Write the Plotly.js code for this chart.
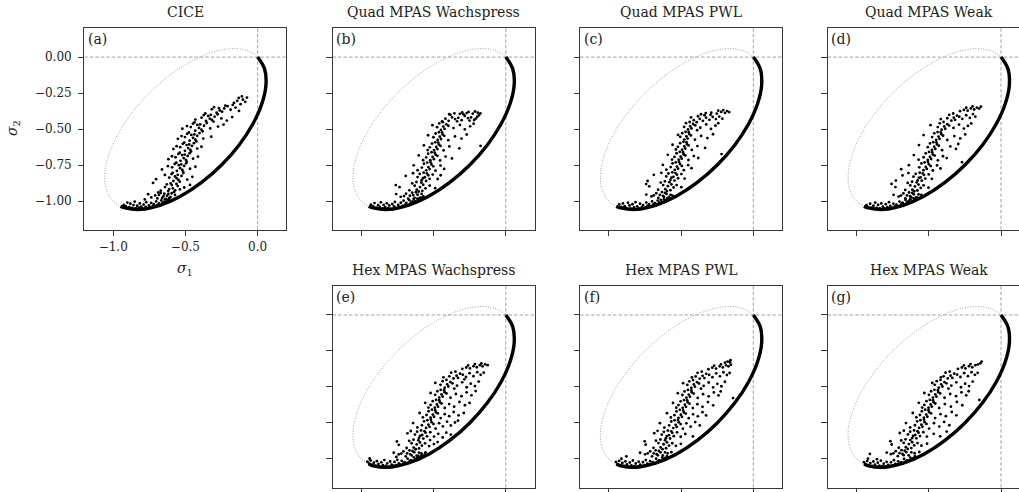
<!DOCTYPE html>
<html>
<head>
<meta charset="utf-8">
<script src="https://cdn.plot.ly/plotly-3.0.1.min.js"></script>
<style>
html, body { margin:0; padding:0; overflow:hidden; background:#fff; }
#chart { width:1040px; height:492px; }
</style>
</head>
<body>
<div id="chart"></div>
<script>
// ---------------- data ----------------
const panelTitles = ["CICE", "Quad MPAS Wachspress", "Quad MPAS PWL", "Quad MPAS Weak",
                     "Hex MPAS Wachspress", "Hex MPAS PWL", "Hex MPAS Weak"];
const panelLetters = ["(a)", "(b)", "(c)", "(d)", "(e)", "(f)", "(g)"];

const xTickVals = [-1.0, -0.5, 0.0];
const xTickText = ["\u22121.0", "\u22120.5", "0.0"];
const yTickVals = [0.0, -0.25, -0.5, -0.75, -1.0];
const yTickText = ["0.00\u00a0", "\u22120.25\u00a0", "\u22120.50\u00a0", "\u22120.75\u00a0", "\u22121.00\u00a0"];
const xLabel = "<i>σ</i><sub>1</sub>";
const yLabel = "<i>σ</i><sub>2</sub>";
const refS1 = 0.0, refS2 = 0.0;

// yield ellipse (dotted)
const ellipseS1 = [0, -0.082, -0.192, -0.323, -0.467, -0.612, -0.75, -0.871, -0.967, -1.03, -1.058, -1.048, -1.0,
                   -0.918, -0.808, -0.677, -0.534, -0.388, -0.25, -0.129, -0.034, 0.03, 0.058, 0.048, 0];
const ellipseS2 = [0, 0.048, 0.058, 0.03, -0.034, -0.129, -0.25, -0.388, -0.534, -0.677, -0.808, -0.918, -1.0,
                   -1.048, -1.058, -1.03, -0.967, -0.871, -0.75, -0.612, -0.467, -0.323, -0.192, -0.082, 0];
// dense states lying on the yield curve (thick black arc)
const arcS1 = [-0.949, -0.918, -0.808, -0.677, -0.534, -0.388, -0.25, -0.129, -0.034, 0.03, 0.058, 0.048, 0];
const arcS2 = [-1.036, -1.048, -1.058, -1.03, -0.967, -0.871, -0.75, -0.612, -0.467, -0.323, -0.192, -0.082, 0];

const cloudCICE = [
[-.927,-1.027],[-.913,-1.036],[-.902,-1.011],[-.889,-1.043],[-.881,-1.019],[-.868,-1.047],[-.859,-1.028],[-.851,-1.004],[-.843,-1.051],[-.834,-1.033],
[-.822,-1.046],[-.816,-1.017],[-.806,-1.039],[-.797,-1.052],[-.789,-1.025],[-.776,-1.041],[-.771,-1.008],[-.763,-1.049],[-.752,-1.031],[-.744,-1.044],
[-.737,-1.013],[-.726,-1.036],[-.719,-1.022],[-.711,-1.039],[-.702,-1.003],[-.694,-1.028],[-.683,-1.017],[-.676,-1.032],[-.667,-.996],[-.659,-1.013],
[-.648,-1.007],[-.641,-.988],[-.633,-1.004],[-.622,-.992],[-.611,-.979],
[-.652,-.967],[-.694,-.982],[-.618,-.951],[-.736,-.975],[-.671,-.944],[-.603,-.972],[-.683,-.958],[-.634,-.986],[-.781,-.989],[-.595,-.946],
[-.661,-.979],[-.709,-.961],[-.627,-.963],[-.572,-.958],[-.646,-.949],[-.758,-.953],[-.688,-.941],[-.612,-.984],
[-.587,-.912],[-.619,-.931],[-.553,-.896],[-.602,-.878],[-.571,-.926],[-.641,-.903],[-.538,-.919],[-.594,-.889],[-.724,-.874],[-.613,-.917],
[-.562,-.881],[-.671,-.928],[-.508,-.906],[-.578,-.937],[-.468,-.888],[-.629,-.884],
[-.561,-.842],[-.583,-.861],[-.527,-.826],[-.596,-.813],[-.548,-.854],[-.612,-.837],[-.514,-.806],[-.572,-.829],[-.703,-.848],[-.539,-.866],
[-.588,-.804],[-.642,-.819],[-.487,-.851],[-.553,-.818],[-.452,-.832],
[-.537,-.772],[-.559,-.791],[-.508,-.756],[-.574,-.743],[-.521,-.784],[-.592,-.766],[-.495,-.738],[-.546,-.751],[-.662,-.781],[-.516,-.797],
[-.563,-.734],[-.621,-.758],[-.468,-.776],[-.529,-.746],[-.431,-.762],
[-.512,-.702],[-.534,-.721],[-.484,-.687],[-.549,-.673],[-.497,-.714],[-.568,-.696],[-.471,-.668],[-.523,-.681],[-.618,-.709],[-.491,-.727],
[-.539,-.664],[-.593,-.689],[-.447,-.706],[-.505,-.677],[-.413,-.692],
[-.481,-.632],[-.503,-.651],[-.455,-.617],[-.518,-.603],[-.466,-.644],[-.536,-.626],[-.441,-.598],[-.492,-.611],[-.583,-.638],[-.461,-.656],
[-.508,-.594],[-.561,-.619],[-.418,-.636],[-.474,-.607],[-.389,-.623],
[-.447,-.562],[-.471,-.581],[-.418,-.547],[-.488,-.533],[-.431,-.574],[-.503,-.556],[-.402,-.528],[-.459,-.541],[-.552,-.568],[-.424,-.586],
[-.476,-.524],[-.527,-.549],[-.376,-.566],[-.438,-.537],[-.321,-.553],
[-.406,-.492],[-.432,-.511],[-.371,-.477],[-.448,-.463],[-.389,-.504],[-.463,-.486],[-.352,-.458],[-.417,-.471],[-.521,-.498],[-.381,-.516],
[-.437,-.454],[-.489,-.479],[-.328,-.496],[-.398,-.467],[-.274,-.483],[-.236,-.469],
[-.331,-.428],[-.357,-.444],[-.298,-.414],[-.373,-.403],[-.316,-.437],[-.388,-.421],[-.277,-.397],[-.342,-.409],[-.431,-.434],[-.305,-.448],
[-.362,-.392],[-.251,-.426],[-.213,-.441],[-.324,-.401],[-.176,-.417],
[-.262,-.371],[-.284,-.386],[-.231,-.357],[-.302,-.348],[-.246,-.379],[-.317,-.363],[-.208,-.341],[-.268,-.354],[-.187,-.366],[-.153,-.351],
[-.224,-.337],[-.129,-.374],
[-.163,-.318],[-.141,-.304],[-.118,-.327],[-.172,-.332],[-.102,-.296],[-.131,-.284],[-.086,-.311],[-.074,-.281],[-.109,-.273]
];

const cloudQuadWachspress = [
[-.933,-1.026],[-.918,-1.038],[-.909,-1.014],[-.896,-1.047],[-.884,-1.029],[-.873,-1.041],[-.865,-1.009],[-.852,-1.052],[-.846,-1.027],[-.835,-1.043],
[-.824,-1.016],[-.813,-1.049],[-.807,-1.031],[-.795,-1.054],[-.786,-1.021],[-.774,-1.038],[-.768,-1.006],[-.757,-1.047],[-.745,-1.027],[-.738,-1.042],
[-.727,-1.012],[-.716,-1.034],[-.708,-.998],[-.697,-1.026],[-.689,-1.013],[-.676,-1.029],[-.668,-.994],[-.657,-1.012],[-.646,-1.003],[-.638,-.986],
[-.627,-1.001],[-.613,-.984],[-.602,-.991],[-.587,-.977],
[-.664,-.963],[-.632,-.978],[-.691,-.949],[-.611,-.956],[-.648,-.942],[-.728,-.971],[-.597,-.979],[-.676,-.984],[-.622,-.939],[-.759,-.952],
[-.583,-.951],[-.705,-.966],[-.641,-.959],[-.571,-.968],
[-.594,-.903],[-.617,-.921],[-.572,-.887],[-.631,-.894],[-.603,-.934],[-.556,-.912],[-.648,-.877],[-.585,-.872],[-.736,-.904],[-.619,-.868],
[-.527,-.893],[-.668,-.926],[-.489,-.911],[-.762,-.889],[-.578,-.929],
[-.561,-.835],[-.583,-.856],[-.537,-.821],[-.596,-.812],[-.552,-.861],[-.528,-.846],[-.611,-.834],[-.569,-.803],[-.693,-.826],[-.506,-.816],
[-.574,-.842],[-.642,-.807],[-.472,-.847],[-.547,-.808],[-.451,-.821],
[-.536,-.764],[-.551,-.787],[-.515,-.746],[-.567,-.741],[-.528,-.778],[-.502,-.759],[-.581,-.768],[-.544,-.733],[-.638,-.752],[-.487,-.789],
[-.521,-.731],[-.611,-.786],[-.452,-.754],[-.427,-.777],
[-.507,-.694],[-.523,-.716],[-.486,-.678],[-.538,-.671],[-.498,-.709],[-.474,-.686],[-.551,-.697],[-.514,-.661],[-.603,-.683],[-.455,-.718],
[-.492,-.664],[-.572,-.716],[-.417,-.691],[-.373,-.704],
[-.482,-.624],[-.497,-.646],[-.463,-.608],[-.511,-.601],[-.474,-.639],[-.452,-.617],[-.526,-.627],[-.489,-.592],[-.567,-.613],[-.431,-.648],
[-.468,-.594],[-.541,-.646],[-.391,-.621],[-.322,-.634],
[-.457,-.553],[-.472,-.576],[-.438,-.537],[-.486,-.531],[-.449,-.569],[-.426,-.547],[-.501,-.557],[-.463,-.522],[-.538,-.543],[-.398,-.577],
[-.441,-.524],[-.352,-.551],[-.307,-.566],[-.271,-.538],
[-.433,-.483],[-.449,-.506],[-.412,-.467],[-.461,-.461],[-.424,-.499],[-.398,-.477],[-.476,-.487],[-.436,-.452],[-.362,-.493],[-.318,-.471],
[-.508,-.473],[-.284,-.502],[-.247,-.481],[-.223,-.463],
[-.418,-.428],[-.396,-.443],[-.372,-.419],[-.351,-.431],[-.329,-.422],[-.306,-.438],[-.284,-.409],[-.262,-.424],[-.241,-.419],[-.219,-.437],
[-.198,-.414],[-.441,-.446],[-.383,-.401],[-.337,-.446],[-.293,-.398],[-.251,-.441],[-.207,-.427],[-.186,-.404],
[-.392,-.397],[-.356,-.391],[-.318,-.394],[-.271,-.389],[-.229,-.393],[-.194,-.386],[-.176,-.391],[-.213,-.378],[-.258,-.381],[-.302,-.385],
[-.175,-.617]
];

const cloudQuadPWL = [
[-.928,-1.023],[-.915,-1.041],[-.903,-1.017],[-.891,-1.036],[-.879,-1.049],[-.868,-1.012],[-.857,-1.031],[-.849,-1.053],[-.837,-1.022],[-.826,-1.044],
[-.816,-1.008],[-.804,-1.037],[-.793,-1.051],[-.784,-1.019],[-.772,-1.042],[-.763,-1.028],[-.751,-1.046],[-.741,-1.011],[-.732,-1.033],[-.721,-1.021],
[-.712,-1.038],[-.701,-1.003],[-.692,-1.024],[-.681,-1.014],[-.671,-1.027],[-.662,-.997],[-.651,-1.011],[-.641,-.992],[-.632,-1.006],[-.619,-.988],
[-.608,-.996],[-.596,-.981],[-.584,-.989],
[-.647,-.958],[-.618,-.972],[-.672,-.946],[-.601,-.951],[-.633,-.938],[-.705,-.968],[-.584,-.972],[-.658,-.979],[-.612,-.943],[-.741,-.955],
[-.573,-.957],[-.689,-.961],[-.626,-.964],[-.559,-.962],
[-.591,-.897],[-.609,-.918],[-.567,-.884],[-.624,-.889],[-.598,-.931],[-.552,-.906],[-.641,-.872],[-.581,-.869],[-.721,-.898],[-.612,-.863],
[-.531,-.889],[-.659,-.921],[-.498,-.904],[-.742,-.882],[-.574,-.925],
[-.553,-.832],[-.574,-.853],[-.529,-.817],[-.588,-.809],[-.546,-.858],[-.521,-.842],[-.603,-.829],[-.561,-.801],[-.689,-.818],[-.498,-.813],
[-.567,-.838],[-.637,-.804],[-.476,-.844],[-.539,-.806],[-.732,-.861],
[-.529,-.761],[-.544,-.784],[-.508,-.743],[-.559,-.738],[-.521,-.775],[-.495,-.756],[-.572,-.764],[-.537,-.731],[-.626,-.749],[-.481,-.786],
[-.514,-.728],[-.602,-.782],[-.451,-.751],[-.428,-.772],
[-.503,-.691],[-.517,-.713],[-.483,-.675],[-.531,-.668],[-.496,-.706],[-.471,-.683],[-.546,-.694],[-.509,-.658],[-.592,-.679],[-.449,-.715],
[-.487,-.661],[-.563,-.712],[-.412,-.688],[-.381,-.701],
[-.478,-.621],[-.493,-.643],[-.459,-.605],[-.507,-.598],[-.471,-.636],[-.448,-.614],[-.522,-.624],[-.484,-.589],[-.559,-.609],[-.426,-.645],
[-.463,-.591],[-.536,-.642],[-.387,-.618],[-.334,-.631],
[-.463,-.551],[-.478,-.573],[-.444,-.535],[-.492,-.529],[-.455,-.566],[-.432,-.544],[-.506,-.554],[-.469,-.519],[-.521,-.541],[-.404,-.574],
[-.447,-.522],[-.361,-.548],[-.318,-.563],[-.279,-.536],
[-.437,-.481],[-.452,-.503],[-.417,-.465],[-.466,-.459],[-.428,-.496],[-.402,-.474],[-.479,-.485],[-.441,-.451],[-.367,-.491],[-.326,-.468],
[-.293,-.499],[-.262,-.477],[-.389,-.508],[-.243,-.459],
[-.412,-.438],[-.392,-.452],[-.371,-.429],[-.349,-.443],[-.327,-.421],[-.304,-.436],[-.281,-.416],[-.259,-.431],[-.236,-.413],[-.214,-.428],
[-.431,-.419],[-.383,-.411],[-.338,-.404],[-.296,-.401],
[-.362,-.397],[-.329,-.389],[-.291,-.386],[-.253,-.393],[-.222,-.381],[-.196,-.388],[-.181,-.375],[-.167,-.382],[-.208,-.368],[-.243,-.372],
[-.22,-.674]
];

const cloudQuadWeak = [
[-.931,-1.029],[-.919,-1.042],[-.906,-1.019],[-.894,-1.046],[-.883,-1.033],[-.871,-1.011],[-.861,-1.048],[-.851,-1.027],[-.839,-1.052],[-.829,-1.017],
[-.818,-1.039],[-.807,-1.051],[-.798,-1.022],[-.787,-1.043],[-.776,-1.008],[-.766,-1.034],[-.754,-1.047],[-.745,-1.019],[-.734,-1.038],[-.724,-1.026],
[-.713,-1.036],[-.703,-1.004],[-.692,-1.021],[-.682,-1.011],[-.672,-1.024],[-.661,-.993],[-.65,-1.009],[-.639,-.999],[-.628,-.987],[-.617,-1.001],
[-.605,-.982],[-.594,-.991],[-.579,-.976],
[-.651,-.961],[-.622,-.975],[-.676,-.947],[-.604,-.953],[-.637,-.941],[-.709,-.969],[-.588,-.975],[-.662,-.982],[-.615,-.944],[-.744,-.957],
[-.571,-.954],[-.693,-.962],[-.629,-.967],[-.552,-.958],
[-.596,-.899],[-.614,-.921],[-.571,-.886],[-.628,-.892],[-.601,-.932],[-.556,-.909],[-.646,-.874],[-.584,-.871],[-.731,-.903],[-.616,-.866],
[-.536,-.891],[-.663,-.923],[-.502,-.907],[-.758,-.881],[-.579,-.927],
[-.557,-.836],[-.577,-.857],[-.533,-.819],[-.591,-.811],[-.549,-.859],[-.524,-.844],[-.606,-.831],[-.563,-.803],[-.682,-.822],[-.501,-.815],
[-.569,-.839],[-.641,-.806],[-.479,-.846],[-.542,-.808],[-.728,-.858],
[-.521,-.763],[-.537,-.786],[-.499,-.745],[-.551,-.739],[-.514,-.777],[-.487,-.757],[-.566,-.766],[-.529,-.732],[-.638,-.751],[-.472,-.788],
[-.506,-.729],[-.691,-.779],[-.443,-.753],[-.419,-.774],
[-.492,-.693],[-.507,-.715],[-.472,-.677],[-.521,-.669],[-.484,-.708],[-.459,-.684],[-.536,-.696],[-.498,-.659],[-.604,-.681],[-.437,-.717],
[-.476,-.663],[-.571,-.713],[-.402,-.689],[-.376,-.702],
[-.463,-.623],[-.478,-.645],[-.443,-.607],[-.492,-.6],[-.455,-.638],[-.431,-.616],[-.507,-.626],[-.469,-.591],[-.568,-.611],[-.408,-.647],
[-.447,-.593],[-.351,-.621],[-.312,-.638],[-.296,-.604],
[-.433,-.552],[-.449,-.575],[-.413,-.536],[-.462,-.53],[-.426,-.568],[-.401,-.546],[-.477,-.556],[-.439,-.521],[-.536,-.542],[-.372,-.576],
[-.417,-.523],[-.323,-.549],[-.282,-.565],[-.248,-.537],
[-.393,-.482],[-.411,-.505],[-.372,-.466],[-.424,-.46],[-.386,-.498],[-.359,-.476],[-.438,-.486],[-.398,-.451],[-.488,-.473],[-.329,-.492],
[-.291,-.469],[-.257,-.497],[-.229,-.478],[-.206,-.461],
[-.327,-.421],[-.344,-.441],[-.305,-.407],[-.359,-.401],[-.318,-.436],[-.289,-.414],[-.372,-.425],[-.331,-.392],[-.417,-.431],[-.268,-.429],
[-.241,-.404],[-.216,-.423],[-.194,-.396],[-.178,-.414],
[-.284,-.376],[-.257,-.367],[-.231,-.372],[-.209,-.357],[-.186,-.364],[-.167,-.351],[-.151,-.358],[-.139,-.344],[-.241,-.352],[-.197,-.343],
[-.27,-.73]
];

const cloudHexWachspress = [
[-.958,-1.019],[-.947,-1.033],[-.936,-1.011],[-.925,-1.041],[-.914,-1.026],[-.903,-1.047],[-.893,-1.016],[-.882,-1.036],[-.872,-1.052],[-.862,-1.024],
[-.851,-1.043],[-.841,-1.008],[-.831,-1.049],[-.821,-1.031],[-.811,-1.053],[-.801,-1.018],[-.791,-1.039],[-.781,-1.047],[-.771,-1.021],[-.761,-1.043],
[-.751,-1.006],[-.741,-1.032],[-.731,-1.041],[-.721,-1.014],[-.711,-1.033],[-.701,-1.022],[-.69,-1.031],[-.68,-.998],[-.669,-1.019],[-.659,-1.009],
[-.648,-1.014],[-.637,-.989],[-.627,-1.003],[-.616,-.993],[-.605,-.979],[-.594,-.991],[-.583,-.974],[-.572,-.983],[-.561,-.968],[-.943,-.997],
[-.683,-.962],[-.652,-.976],[-.709,-.948],[-.634,-.953],[-.667,-.941],[-.742,-.969],[-.617,-.977],[-.693,-.983],[-.646,-.945],[-.776,-.957],
[-.601,-.956],[-.724,-.963],[-.661,-.968],[-.584,-.962],[-.556,-.955],[-.758,-.986],
[-.617,-.899],[-.638,-.921],[-.594,-.886],[-.652,-.891],[-.624,-.933],[-.581,-.908],[-.669,-.874],[-.606,-.871],[-.741,-.902],[-.639,-.866],
[-.559,-.892],[-.687,-.924],[-.531,-.911],[-.754,-.879],[-.601,-.927],[-.498,-.897],[-.472,-.883],[-.524,-.869],
[-.579,-.834],[-.601,-.855],[-.556,-.818],[-.614,-.811],[-.571,-.859],[-.546,-.843],[-.629,-.831],[-.587,-.802],[-.681,-.822],[-.523,-.814],
[-.594,-.84],[-.658,-.806],[-.497,-.845],[-.563,-.807],[-.468,-.826],[-.437,-.851],[-.412,-.818],[-.381,-.831],
[-.536,-.762],[-.552,-.785],[-.514,-.745],[-.566,-.739],[-.528,-.777],[-.501,-.757],[-.581,-.766],[-.543,-.731],[-.642,-.751],[-.486,-.789],
[-.519,-.728],[-.612,-.781],[-.462,-.752],[-.436,-.774],[-.407,-.741],[-.381,-.768],[-.352,-.747],[-.331,-.734],
[-.505,-.692],[-.521,-.714],[-.484,-.676],[-.535,-.669],[-.497,-.707],[-.471,-.684],[-.549,-.695],[-.512,-.658],[-.597,-.681],[-.451,-.716],
[-.489,-.662],[-.574,-.711],[-.423,-.689],[-.392,-.703],[-.361,-.674],[-.327,-.697],[-.291,-.681],
[-.477,-.622],[-.492,-.644],[-.457,-.606],[-.506,-.599],[-.469,-.637],[-.445,-.615],[-.521,-.625],[-.483,-.59],[-.558,-.61],[-.423,-.646],
[-.461,-.592],[-.536,-.643],[-.392,-.619],[-.358,-.637],[-.321,-.604],[-.283,-.627],[-.251,-.611],
[-.445,-.552],[-.461,-.574],[-.424,-.536],[-.474,-.53],[-.437,-.567],[-.411,-.545],[-.489,-.555],[-.451,-.52],[-.521,-.542],[-.383,-.575],
[-.427,-.523],[-.346,-.549],[-.307,-.564],[-.271,-.537],[-.238,-.558],[-.209,-.529],
[-.406,-.482],[-.423,-.505],[-.384,-.466],[-.437,-.46],[-.398,-.497],[-.369,-.475],[-.452,-.485],[-.411,-.451],[-.488,-.472],[-.338,-.491],
[-.302,-.468],[-.271,-.502],[-.243,-.477],[-.214,-.494],[-.188,-.463],[-.357,-.511],
[-.341,-.422],[-.362,-.441],[-.317,-.408],[-.378,-.401],[-.331,-.437],[-.298,-.415],[-.391,-.426],[-.349,-.393],[-.432,-.433],[-.276,-.431],
[-.251,-.404],[-.224,-.425],[-.198,-.397],[-.174,-.416],[-.153,-.401],[-.287,-.447],
[-.301,-.374],[-.274,-.365],[-.248,-.371],[-.224,-.356],[-.201,-.363],[-.179,-.349],[-.161,-.357],[-.143,-.343],[-.126,-.349],[-.261,-.351],
[-.214,-.341],[-.169,-.336]
];

const cloudHexPWL = [
[-.951,-1.021],[-.94,-1.036],[-.929,-1.014],[-.918,-1.043],[-.907,-1.028],[-.896,-1.049],[-.886,-1.017],[-.875,-1.038],[-.865,-1.053],[-.855,-1.025],
[-.844,-1.045],[-.834,-1.011],[-.824,-1.05],[-.814,-1.032],[-.804,-1.053],[-.794,-1.019],[-.784,-1.04],[-.774,-1.048],[-.764,-1.023],[-.754,-1.044],
[-.744,-1.008],[-.734,-1.033],[-.724,-1.042],[-.714,-1.016],[-.704,-1.034],[-.694,-1.023],[-.683,-1.032],[-.673,-.999],[-.662,-1.019],[-.652,-1.009],
[-.641,-1.013],[-.63,-.99],[-.62,-1.003],[-.609,-.993],[-.598,-.98],[-.587,-.991],[-.879,-.982],[-.913,-.999],
[-.689,-.961],[-.661,-.975],[-.714,-.947],[-.643,-.954],[-.676,-.94],[-.749,-.968],[-.627,-.976],[-.701,-.982],[-.654,-.944],[-.784,-.957],
[-.611,-.955],[-.731,-.962],[-.669,-.967],[-.593,-.961],[-.567,-.953],
[-.621,-.898],[-.642,-.92],[-.598,-.885],[-.657,-.89],[-.629,-.932],[-.584,-.907],[-.674,-.873],[-.611,-.87],[-.745,-.901],[-.643,-.865],
[-.561,-.891],[-.691,-.923],[-.536,-.909],[-.752,-.878],[-.604,-.926],[-.502,-.895],
[-.584,-.835],[-.605,-.856],[-.561,-.819],[-.619,-.812],[-.576,-.858],[-.551,-.842],[-.634,-.831],[-.592,-.803],[-.686,-.821],[-.528,-.815],
[-.599,-.841],[-.663,-.805],[-.503,-.846],[-.568,-.808],[-.471,-.827],[-.418,-.844],
[-.538,-.763],[-.554,-.786],[-.516,-.746],[-.568,-.74],[-.531,-.778],[-.503,-.758],[-.583,-.767],[-.545,-.732],[-.647,-.752],[-.488,-.79],
[-.521,-.729],[-.616,-.782],[-.463,-.753],[-.434,-.776],[-.402,-.744],[-.371,-.767],
[-.502,-.693],[-.518,-.715],[-.481,-.677],[-.532,-.67],[-.494,-.708],[-.468,-.685],[-.546,-.696],[-.509,-.659],[-.598,-.682],[-.447,-.717],
[-.486,-.663],[-.571,-.712],[-.417,-.69],[-.384,-.704],[-.352,-.675],[-.327,-.698],
[-.474,-.623],[-.489,-.645],[-.454,-.607],[-.503,-.6],[-.466,-.638],[-.442,-.616],[-.518,-.626],[-.48,-.591],[-.556,-.611],[-.419,-.647],
[-.458,-.593],[-.533,-.644],[-.387,-.62],[-.352,-.638],[-.314,-.605],[-.278,-.628],
[-.447,-.553],[-.463,-.575],[-.426,-.537],[-.476,-.531],[-.439,-.568],[-.413,-.546],[-.491,-.556],[-.453,-.521],[-.523,-.543],[-.385,-.576],
[-.429,-.524],[-.348,-.55],[-.309,-.565],[-.273,-.538],[-.241,-.559],[-.226,-.531],
[-.412,-.483],[-.429,-.506],[-.39,-.467],[-.443,-.461],[-.404,-.498],[-.376,-.476],[-.457,-.486],[-.417,-.452],[-.486,-.474],[-.344,-.492],
[-.309,-.469],[-.278,-.503],[-.249,-.478],[-.221,-.495],[-.197,-.464],[-.362,-.512],
[-.351,-.423],[-.371,-.442],[-.326,-.409],[-.386,-.402],[-.339,-.438],[-.306,-.416],[-.399,-.427],[-.357,-.394],[-.425,-.434],[-.283,-.432],
[-.257,-.405],[-.231,-.426],[-.207,-.398],[-.183,-.417],[-.164,-.403],
[-.311,-.377],[-.284,-.366],[-.258,-.372],[-.233,-.357],[-.211,-.364],[-.189,-.35],[-.172,-.357],[-.156,-.345],[-.271,-.352],[-.224,-.343],
[-.196,-.331],[-.178,-.324],[-.162,-.329],[-.158,-.314],
[-.14,-.577]
];

const cloudHexWeak = [
[-.949,-1.023],[-.938,-1.037],[-.927,-1.015],[-.916,-1.044],[-.905,-1.029],[-.894,-1.05],[-.884,-1.018],[-.873,-1.039],[-.863,-1.054],[-.853,-1.026],
[-.842,-1.046],[-.832,-1.012],[-.822,-1.051],[-.812,-1.033],[-.802,-1.054],[-.792,-1.02],[-.782,-1.041],[-.772,-1.049],[-.762,-1.024],[-.752,-1.045],
[-.742,-1.009],[-.732,-1.034],[-.722,-1.043],[-.712,-1.017],[-.702,-1.035],[-.692,-1.024],[-.681,-1.033],[-.671,-1.0],[-.66,-1.02],[-.65,-1.01],
[-.639,-1.014],[-.628,-.991],[-.618,-1.004],[-.607,-.994],[-.596,-.981],[-.908,-.965],[-.921,-.999],[-.859,-1.002],
[-.703,-.96],[-.674,-.974],[-.729,-.946],[-.656,-.953],[-.689,-.939],[-.763,-.967],[-.639,-.975],[-.715,-.981],[-.667,-.943],[-.791,-.956],
[-.621,-.954],[-.745,-.961],[-.682,-.966],[-.598,-.96],[-.566,-.952],
[-.638,-.897],[-.659,-.919],[-.615,-.884],[-.674,-.889],[-.646,-.931],[-.601,-.906],[-.691,-.872],[-.628,-.869],[-.757,-.9],[-.661,-.864],
[-.578,-.89],[-.708,-.922],[-.551,-.908],[-.766,-.877],[-.621,-.925],[-.512,-.894],
[-.594,-.834],[-.615,-.855],[-.571,-.818],[-.629,-.811],[-.586,-.857],[-.561,-.841],[-.644,-.83],[-.602,-.802],[-.701,-.82],[-.538,-.814],
[-.609,-.84],[-.673,-.804],[-.513,-.845],[-.578,-.807],[-.466,-.826],[-.421,-.843],
[-.551,-.762],[-.567,-.785],[-.529,-.745],[-.581,-.739],[-.544,-.777],[-.516,-.757],[-.596,-.766],[-.558,-.731],[-.658,-.751],[-.498,-.789],
[-.533,-.728],[-.629,-.781],[-.464,-.752],[-.427,-.775],[-.394,-.743],[-.358,-.766],
[-.518,-.692],[-.534,-.714],[-.497,-.676],[-.548,-.669],[-.51,-.707],[-.484,-.684],[-.562,-.695],[-.525,-.658],[-.611,-.681],[-.456,-.716],
[-.502,-.662],[-.586,-.711],[-.419,-.689],[-.382,-.703],[-.341,-.674],[-.309,-.697],
[-.487,-.622],[-.502,-.644],[-.467,-.606],[-.516,-.599],[-.479,-.637],[-.455,-.615],[-.531,-.625],[-.493,-.59],[-.569,-.61],[-.428,-.646],
[-.471,-.592],[-.546,-.643],[-.389,-.619],[-.347,-.637],[-.306,-.604],[-.268,-.627],
[-.455,-.552],[-.471,-.574],[-.434,-.536],[-.484,-.53],[-.447,-.567],[-.421,-.545],[-.499,-.555],[-.461,-.52],[-.531,-.542],[-.391,-.575],
[-.437,-.523],[-.352,-.549],[-.311,-.564],[-.274,-.537],[-.241,-.558],[-.224,-.53],
[-.414,-.482],[-.431,-.505],[-.392,-.466],[-.445,-.46],[-.406,-.497],[-.378,-.475],[-.459,-.485],[-.419,-.451],[-.476,-.472],[-.344,-.491],
[-.309,-.468],[-.277,-.502],[-.248,-.477],[-.221,-.494],[-.196,-.463],[-.364,-.511],
[-.349,-.422],[-.369,-.441],[-.324,-.408],[-.384,-.401],[-.337,-.437],[-.304,-.415],[-.397,-.426],[-.355,-.393],[-.416,-.433],[-.281,-.431],
[-.255,-.404],[-.229,-.425],[-.204,-.397],[-.181,-.416],[-.162,-.402],
[-.298,-.374],[-.271,-.365],[-.246,-.371],[-.222,-.356],[-.199,-.363],[-.177,-.349],[-.159,-.343],[-.143,-.336],[-.134,-.324],[-.257,-.351],
[-.211,-.341],
[-.15,-.59],[-.376,-.81]
];

const clouds = [cloudCICE, cloudQuadWachspress, cloudQuadPWL, cloudQuadWeak,
                cloudHexWachspress, cloudHexPWL, cloudHexWeak];

// ---------------- layout (pixels) ----------------
const W = 1040, H = 492;
const colLeft = [84.3, 332.5, 580, 827.7];
const rowTop = [28.3, 286.2];
const pw = 202.2, ph = 201.5;
const cells = [[0,0],[1,0],[2,0],[3,0],[1,1],[2,1],[3,1]]; // [col,row]
const axisRange = [-1.2, 0.2];

const FONT = "DejaVu Serif, Liberation Serif, serif";
const INK = "#222";

const traces = [];
const layout = {
  width: W, height: H,
  margin: {l:0, r:0, t:0, b:0},
  paper_bgcolor: "#fff", plot_bgcolor: "#fff",
  showlegend: false,
  font: {family: FONT, size: 12, color: INK},
  annotations: [], shapes: []
};

cells.forEach(function (cell, i) {
  const n = i === 0 ? "" : String(i + 1);
  const xa = "x" + n, ya = "y" + n;
  const l = colLeft[cell[0]], t = rowTop[cell[1]];
  const first = i === 0;
  layout["xaxis" + n] = {
    domain: [l / W, (l + pw) / W], anchor: ya, range: axisRange,
    tickmode: "array", tickvals: xTickVals, ticktext: xTickText, showticklabels: first,
    ticks: "outside", ticklen: 5.5, tickwidth: 0.9, tickcolor: INK,
    showline: true, mirror: true, linecolor: INK, linewidth: 0.9,
    showgrid: false, zeroline: false, fixedrange: true,
    tickfont: {family: FONT, size: 12, color: INK}
  };
  layout["yaxis" + n] = {
    domain: [1 - (t + ph) / H, 1 - t / H], anchor: xa, range: axisRange,
    tickmode: "array", tickvals: yTickVals, ticktext: yTickText, showticklabels: first,
    ticks: "outside", ticklen: 5.5, tickwidth: 0.9, tickcolor: INK,
    showline: true, mirror: true, linecolor: INK, linewidth: 0.9,
    showgrid: false, zeroline: false, fixedrange: true,
    tickfont: {family: FONT, size: 12, color: INK}
  };

  // reference lines
  layout.shapes.push({type: "line", xref: xa, yref: ya + " domain", x0: refS1, x1: refS1, y0: 0, y1: 1,
    line: {color: "#999", width: 0.9, dash: "3.5px,2px"}, layer: "below"});
  layout.shapes.push({type: "line", xref: xa + " domain", yref: ya, x0: 0, x1: 1, y0: refS2, y1: refS2,
    line: {color: "#999", width: 0.9, dash: "3.5px,2px"}, layer: "below"});

  // ellipse
  traces.push({type: "scatter", mode: "lines", x: ellipseS1, y: ellipseS2, xaxis: xa, yaxis: ya,
    line: {color: "#8a8a8a", width: 0.8, dash: "1px,1.6px", shape: "spline"}, hoverinfo: "skip"});
  // scattered states
  const pts = clouds[i];
  traces.push({type: "scatter", mode: "markers", x: pts.map(p => p[0]), y: pts.map(p => p[1]),
    xaxis: xa, yaxis: ya, marker: {size: 2.8, color: "#000", line: {width: 0}}, hoverinfo: "skip"});
  // states on the yield curve
  traces.push({type: "scatter", mode: "lines", x: arcS1, y: arcS2, xaxis: xa, yaxis: ya,
    line: {color: "#000", width: 3.4, shape: "spline"}, hoverinfo: "skip"});

  // panel title
  layout.annotations.push({text: panelTitles[i], xref: "paper", yref: "paper",
    x: (l + pw / 2) / W, y: 1 - (t - 16) / H, xanchor: "center", yanchor: "middle",
    showarrow: false, font: {family: FONT, size: 14, color: INK}});
  // panel letter
  layout.annotations.push({text: panelLetters[i], xref: "paper", yref: "paper",
    x: (l + 1.5) / W, y: 1 - (t + 0.5) / H, xanchor: "left", yanchor: "top",
    showarrow: false, font: {family: FONT, size: 14, color: INK}});
});

// axis labels on panel (a)
layout.annotations.push({text: xLabel, xref: "paper", yref: "paper",
  x: (colLeft[0] + pw / 2) / W, y: 1 - 269 / H, xanchor: "center", yanchor: "middle",
  showarrow: false, font: {family: FONT, size: 14, color: INK}});
layout.annotations.push({text: yLabel, xref: "paper", yref: "paper",
  x: 13 / W, y: 1 - 128 / H, xanchor: "center", yanchor: "middle", textangle: -90,
  showarrow: false, font: {family: FONT, size: 14, color: INK}});

Plotly.newPlot("chart", traces, layout, {displayModeBar: false, staticPlot: true});
</script>
</body>
</html>
